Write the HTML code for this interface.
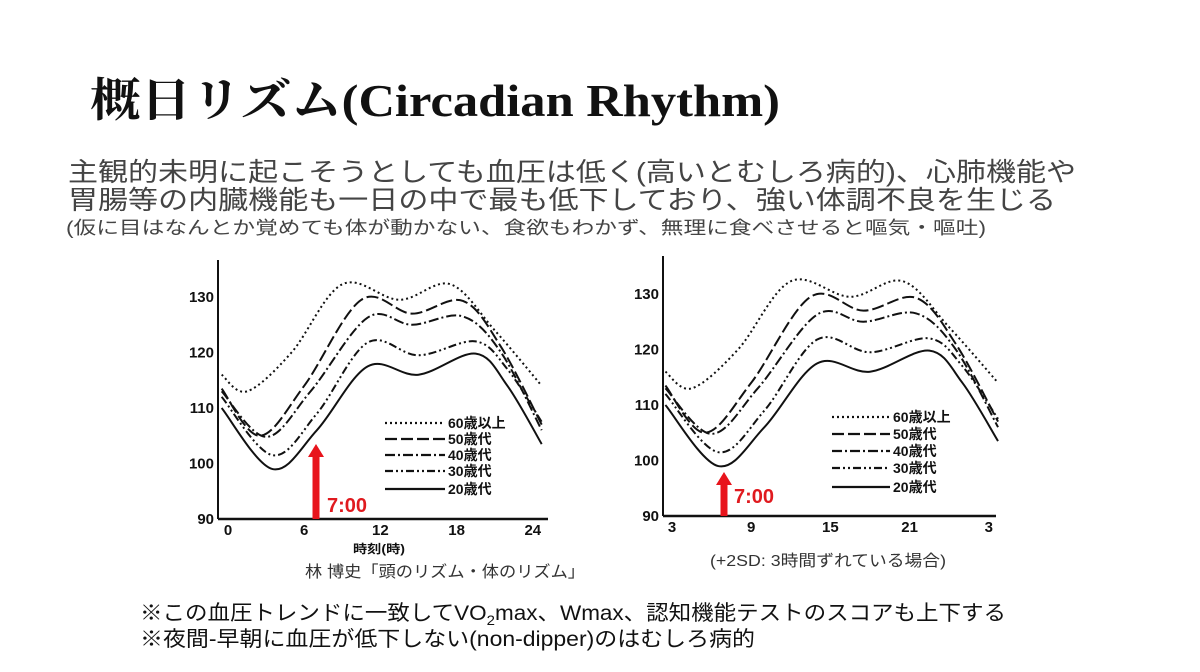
<!DOCTYPE html>
<html><head><meta charset="utf-8">
<style>
html,body{margin:0;padding:0;background:#fff;}
svg{display:block;}
.jp{font-family:"Liberation Sans","Noto Sans CJK JP",sans-serif;}
.tick{font-family:"Liberation Sans","Noto Sans CJK JP",sans-serif;font-size:15px;font-weight:bold;fill:#111;}
.leg{font-family:"Liberation Sans","Noto Sans CJK JP",sans-serif;font-size:14px;font-weight:bold;fill:#111;}
</style></head>
<body>
<svg id="s" width="1200" height="672" viewBox="0 0 1200 672" xmlns="http://www.w3.org/2000/svg">
<rect width="1200" height="672" fill="#fff"/>
<text x="90" y="116" font-family="'Liberation Serif','Noto Serif CJK SC',serif" font-weight="bold" font-size="46" textLength="690" lengthAdjust="spacingAndGlyphs" fill="#111">概日リズム(Circadian Rhythm)</text>
<text class="jp" x="68" y="181" font-size="26" fill="#444" textLength="1008" lengthAdjust="spacingAndGlyphs">主観的未明に起こそうとしても血圧は低く(高いとむしろ病的)、心肺機能や</text>
<text class="jp" x="68" y="209" font-size="26" fill="#444" textLength="988" lengthAdjust="spacingAndGlyphs">胃腸等の内臓機能も一日の中で最も低下しており、強い体調不良を生じる</text>
<text class="jp" x="66" y="234" font-size="18" fill="#444" textLength="920" lengthAdjust="spacingAndGlyphs">(仮に目はなんとか覚めても体が動かない、食欲もわかず、無理に食べさせると嘔気・嘔吐)</text>

<g id="left"></g><g id="right"></g>

<text class="jp" x="305" y="577" font-size="16" fill="#333" textLength="280" lengthAdjust="spacingAndGlyphs">林 博史「頭のリズム・体のリズム」</text>
<text class="jp" x="710" y="566" font-size="16" fill="#333" textLength="236" lengthAdjust="spacingAndGlyphs">(+2SD: 3時間ずれている場合)</text>
<text class="jp" x="353" y="553" font-size="12" font-weight="bold" fill="#111" textLength="52" lengthAdjust="spacingAndGlyphs">時刻(時)</text>

<text class="jp" x="140" y="620" font-size="21" fill="#111" textLength="866" lengthAdjust="spacingAndGlyphs">※この血圧トレンドに一致してVO<tspan font-size="14" dy="5">2</tspan><tspan dy="-5">max、Wmax、認知機能テストのスコアも上下する</tspan></text>
<text class="jp" x="140" y="646" font-size="21" fill="#111" textLength="615" lengthAdjust="spacingAndGlyphs">※夜間-早朝に血圧が低下しない(non-dipper)のはむしろ病的</text>
</svg>
<script>
var NS="http://www.w3.org/2000/svg";
function el(p,t,a,txt){var e=document.createElementNS(NS,t);for(var k in a)e.setAttribute(k,a[k]);if(txt!==undefined)e.textContent=txt;p.appendChild(e);return e;}
var series=[
 {d:[[-0.5,116],[1.5,113],[5,120],[9,132.3],[13.5,129.5],[17.5,132.3],[21,124],[24.7,114]],dash:"2,3"},
 {d:[[-0.5,113.5],[2.5,105],[6,114],[10.5,129.5],[14.5,127],[18.5,129.3],[21.5,121],[24.7,107]],dash:"12,4"},
 {d:[[-0.5,113],[3,104.8],[6.5,113],[11,126.3],[14.5,125],[18.5,126.5],[21.5,120],[24.7,106]],dash:"10,3,2,3"},
 {d:[[-0.5,112],[3.5,101.5],[7,109],[11,121.8],[15,119.5],[19.5,122],[22,117],[24.7,107.5]],dash:"8,3,2,3,2,3"},
 {d:[[-0.5,110],[3.5,99],[7,106],[11,117.5],[15,116],[19.5,119.8],[22,114],[24.7,103.5]],dash:""}
];
function path(pts){var s="M"+pts[0][0]+","+pts[0][1];
 for(var i=0;i<pts.length-1;i++){var p0=pts[i-1]||pts[i],p1=pts[i],p2=pts[i+1],p3=pts[i+2]||p2;
  var c1x=p1[0]+(p2[0]-p0[0])/6,c1y=p1[1]+(p2[1]-p0[1])/6,c2x=p2[0]-(p3[0]-p1[0])/6,c2y=p2[1]-(p3[1]-p1[1])/6;
  s+=" C"+c1x+","+c1y+" "+c2x+","+c2y+" "+p2[0]+","+p2[1];}
 return s;}
function chart(g,o){
 var X=function(h){return o.x0+h*o.sx},Y=function(v){return o.y0-(v-90)*o.sy};
 el(g,"line",{x1:o.ax,y1:o.top,x2:o.ax,y2:o.y0,stroke:"#111","stroke-width":2});
 el(g,"line",{x1:o.ax,y1:o.y0,x2:o.right,y2:o.y0,stroke:"#111","stroke-width":2.5});
 [90,100,110,120,130].forEach(function(v){el(g,"text",{"class":"tick",x:o.ax-4,y:Y(v)+5,"text-anchor":"end"},String(v));});
 o.xl.forEach(function(l,i){el(g,"text",{"class":"tick",x:X(i*6),y:o.y0+16,"text-anchor":"middle"},l);});
 series.forEach(function(s){var pts=s.d.map(function(p){return[X(p[0]),Y(p[1])]});
  var a={d:path(pts),fill:"none",stroke:"#111","stroke-width":2};if(s.dash)a["stroke-dasharray"]=s.dash;el(g,"path",a);});
 var labs=["60歳以上","50歳代","40歳代","30歳代","20歳代"];
 labs.forEach(function(l,i){var y=o.ly[i];var a={x1:o.lx1,y1:y,x2:o.lx2,y2:y,stroke:"#111","stroke-width":2.2};
  if(series[i].dash)a["stroke-dasharray"]=series[i].dash;el(g,"line",a);
  el(g,"text",{"class":"leg",x:o.lx2+3,y:y+5},l);});
 el(g,"rect",{x:o.arx-3.5,y:o.art+12,width:7,height:o.y0-o.art-12,fill:"#e8141c"});
 el(g,"polygon",{points:(o.arx-8)+","+(o.art+13)+" "+(o.arx+8)+","+(o.art+13)+" "+o.arx+","+o.art,fill:"#e8141c"});
 el(g,"text",{x:o.tx,y:o.ty,fill:"#e01a1f","font-family":"Liberation Sans,sans-serif","font-weight":"bold","font-size":20},"7:00");
}
chart(document.getElementById("left"),{x0:228,sx:12.7,y0:519,sy:5.55,ax:218,top:260,right:548,
 xl:["0","6","12","18","24"],lx1:385,lx2:445,ly:[423,439,455,471,489],arx:316,art:444,tx:327,ty:512});
chart(document.getElementById("right"),{x0:672,sx:13.2,y0:516,sy:5.55,ax:663,top:256,right:996,
 xl:["3","9","15","21","3"],lx1:832,lx2:890,ly:[417,434,451,468,487],arx:724,art:472,tx:734,ty:503});
</script>
</body></html>
